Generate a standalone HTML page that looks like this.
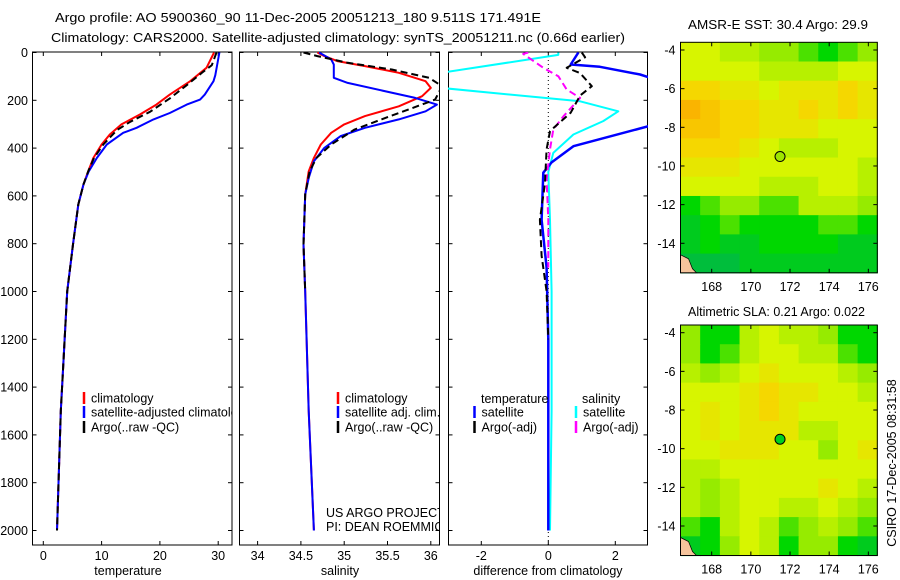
<!DOCTYPE html>
<html><head><meta charset="utf-8">
<style>
html,body{margin:0;padding:0;background:#fff;}
svg{display:block;font-family:"Liberation Sans",sans-serif;}
text{font-size:12.5px;fill:#000;}
</style></head>
<body>
<svg id="fig" width="900" height="580" viewBox="0 0 900 580" xmlns="http://www.w3.org/2000/svg">
<defs>
<clipPath id="c1"><rect x="33" y="52" width="199" height="493"/></clipPath>
<clipPath id="c2"><rect x="240" y="52" width="199" height="493"/></clipPath>
<clipPath id="c3"><rect x="448" y="52" width="200" height="493"/></clipPath>
</defs>
<text x="55" y="22" textLength="486" lengthAdjust="spacingAndGlyphs">Argo profile: AO 5900360_90 11-Dec-2005 20051213_180 9.511S 171.491E</text>
<text x="51" y="42" textLength="574" lengthAdjust="spacingAndGlyphs">Climatology: CARS2000. Satellite-adjusted climatology: synTS_20051211.nc (0.66d earlier)</text>
<g id="plots"></g>
<text x="688" y="29" textLength="180" lengthAdjust="spacingAndGlyphs">AMSR-E SST: 30.4  Argo: 29.9</text>
<text x="688" y="316" textLength="177" lengthAdjust="spacingAndGlyphs">Altimetric SLA: 0.21  Argo: 0.022</text>
<text transform="translate(896,463) rotate(-90)" text-anchor="middle">CSIRO 17-Dec-2005 08:31:58</text>
</svg>
<script>
// ---------- data ----------
const depthTicks = [0,200,400,600,800,1000,1200,1400,1600,1800,2000];
const tempTicks = [0,10,20,30];
const salTicks = [34,34.5,35,35.5,36];
const diffTicks = [-2,0,2];

const tClimDepth = [0,64,120,176,218,259,301,343,385,441,497,552,636,803,1000,1500,2000];
const tClimVal   = [29.3,28.0,25.2,21.7,19.4,16.6,13.4,11.4,10.0,8.6,7.7,6.9,6.0,5.1,4.1,3.0,2.35];
const tSatDepth  = [0,95,120,176,197,218,253,280,315,336,385,441,497,552,636,803,1000,1500,2000];
const tSatVal    = [30.2,29.5,29.2,27.7,26.9,24.6,21.7,18.9,16.0,13.7,10.9,9.2,7.8,6.9,6.0,5.1,4.1,3.0,2.35];
const tArgoDepth = [0,53,81,137,192,248,290,325,385,441,497,552,636,803,1000,1500,2000];
const tArgoVal   = [29.7,28.9,27.4,24.6,21.7,18.3,14.9,12.6,10.3,8.7,7.7,6.9,6.0,5.1,4.1,3.0,2.35];

const sClimDepth = [0,15,36,57,85,120,148,183,225,266,301,336,385,441,497,594,803,1000,1500,2000];
const sClimVal   = [34.69,34.77,34.92,35.24,35.63,35.94,36.0,35.90,35.63,35.24,35.0,34.85,34.73,34.65,34.59,34.55,34.53,34.55,34.59,34.65];
const sSatDepth  = [0,29,50,106,127,190,218,246,280,315,350,399,455,525,594,803,1000,1500,2000];
const sSatVal    = [34.71,34.85,34.88,34.88,35.04,35.82,36.07,35.94,35.63,35.24,34.96,34.77,34.65,34.59,34.55,34.53,34.55,34.59,34.65];
const sArgoDepth = [0,15,43,71,106,141,197,239,280,322,385,441,497,594,803,1000];
const sArgoVal   = [34.53,34.69,35.04,35.55,35.98,36.13,36.05,35.74,35.43,35.12,34.85,34.68,34.6,34.55,34.53,34.55];

const dTSatDepth = [0,50,60,92,150,200,250,308,392,460,503,700,900,1200,1500,2000];
const dTSatVal   = [0.9,0.67,1.54,2.74,4.0,5.0,4.5,3.0,0.75,0.1,-0.15,-0.2,-0.05,0,0,0];
const dTArgoDepth = [0,20,64,86,141,180,252,329,405,550,700,850,1000,1200];
const dTArgoVal   = [1.0,1.1,0.55,0.95,1.3,0.95,0.67,0.05,-0.05,-0.1,-0.25,-0.2,-0.05,0];
const dSSatDepth = [0,10,85,148,204,246,287,343,420,500,700,1000,1500,2000];
const dSSatVal   = [0.3,0.3,-3.2,-3.2,0.95,2.09,1.64,0.75,0.15,0.0,0.05,0.1,0.1,0.05];
const dSArgoDepth = [0,6,64,99,155,190,267,322,405,531,700,900];
const dSArgoVal   = [-0.6,-0.75,-0.15,0.3,0.55,0.95,0.45,0.15,0.05,-0.05,0,0];

const mapLonTicks = [168,170,172,174,176];
const mapLatTicks = [-4,-6,-8,-10,-12,-14];
const sstGrid = [
[3,3,2.5,2.5,2,2,1.5,1,1.5,2],
[3,3,3,3,2.5,2.5,2.5,2.5,3,3],
[4,4,3.5,3.5,3,3.5,3.5,3.5,4,3.5],
[5,4.5,4,4,3.5,3.5,4,3.5,4,3.5],
[4.5,4.5,4,4,3.5,3.5,3.5,3,3,3],
[4,4,4,3.5,3,2.5,2.5,2.5,3,3],
[3.5,3.5,3.5,3,3,3,3,3,3,2.5],
[3,3,3,3,2.5,2.5,2.5,3,3,2.5],
[1,1.5,2,2,1.5,1.5,2.5,2.5,2.5,2],
[0.5,1,1.5,1,1,1,1,1.5,1.5,1],
[0.5,1,0.5,0.5,1,1,1,1,0.5,0.5],
[0,0,0,0.5,0.5,0.5,0.5,0.5,0.5,0.5]];
const slaGrid = [
[2,1,1,2.5,3,2.5,2.5,2,1,1],
[2,1,1.5,2.5,3,3,2.5,2.5,1.5,1],
[2.5,2,2.5,3,3.5,3,3,3,2.5,2],
[3,3,3,3.5,4,3.5,3.5,3,3,2.5],
[3,3.5,3,3.5,4,3.5,3,3,3,3],
[3,3.5,3,3.5,3.5,3.5,2.5,2.5,3,3],
[3,3,3.5,3.5,3.5,3,3,2,3,3.5],
[2.5,2.5,3,3,3,3,3,3,3,3],
[2.5,2,2.5,3,3,3,3,3.5,3,2.5],
[2.5,2,2.5,3,3,2.5,2.5,3,2.5,2],
[1.5,1,2.5,3,2.5,1.5,2,2.5,2,1.5],
[0.5,1,2,3,2.5,1,2,2,1,0.5]];
const argoLon = 171.49, argoLat = -9.51;

// ---------- helpers ----------
const NS='http://www.w3.org/2000/svg';
const root=document.getElementById('plots');
function el(tag,attrs,parent){const e=document.createElementNS(NS,tag);for(const k in attrs)e.setAttribute(k,attrs[k]);(parent||root).appendChild(e);return e;}
function txt(x,y,s,anchor,parent){const t=el('text',{x:x,y:y,'text-anchor':anchor||'start'},parent);t.textContent=s;return t;}
const yD = d => 52.5 + d*0.239;
const tx = t => 43.3 + t*5.83;
const sx = s => 257.6 + (s-34)*86.6;
const dx = v => 548.3 + v*33.5;

function frame(x0,x1,name){
  const r=el('rect',{x:x0,y:52,width:x1-x0,height:493,fill:'none',stroke:'#000','stroke-width':1});
  
  
  depthTicks.forEach(d=>{const y=yD(d);el('line',{x1:x0,x2:x0+4,y1:y,y2:y,stroke:'#000'});el('line',{x1:x1-4,x2:x1,y1:y,y2:y,stroke:'#000'});});
}
function xticks(ticks,f){
  ticks.forEach(v=>{const x=f(v);el('line',{x1:x,x2:x,y1:52,y2:56,stroke:'#000'});el('line',{x1:x,x2:x,y1:541,y2:545,stroke:'#000'});
    const t=txt(x,560,String(v),'middle');
    
    });
}
function line(depths,vals,f,color,w,dash,clip,name){
  const pts=depths.map((d,i)=>f(vals[i]).toFixed(1)+','+yD(d).toFixed(1)).join(' ');
  const p=el('polyline',{points:pts,fill:'none',stroke:color,'stroke-width':w,'clip-path':'url(#'+clip+')','stroke-linejoin':'round'});
  if(dash)p.setAttribute('stroke-dasharray',dash);
  
  
}
function legendRow(x,y,color,label,clip,name){
  const g=el('g',{'clip-path':'url(#'+clip+')'});
  
  
  el('line',{x1:x,x2:x,y1:y-6,y2:y+6,stroke:color,'stroke-width':2.5},g);
  txt(x+7,y+4.5,label,'start',g);
}

// ---------- panel 1 temperature ----------
frame(32.5,232,'temperature-panel');
xticks(tempTicks,tx);
depthTicks.forEach(d=>{const t=txt(28,yD(d)+4.5,String(d),'end');
  
  });
line(tClimDepth,tClimVal,tx,'#ff0000',2,null,'c1','temp-climatology-line');
line(tSatDepth,tSatVal,tx,'#0000ff',2,null,'c1','temp-satellite-line');
line(tArgoDepth,tArgoVal,tx,'#000',2,'7,4','c1','temp-argo-line');
legendRow(84,398,'#ff0000','climatology','c1','legend-climatology');
legendRow(84,412,'#0000ff','satellite-adjusted climatology','c1','legend-satellite-adjusted');
legendRow(84,427,'#000','Argo(..raw -QC)','c1','legend-argo');
{const t=txt(128,575,'temperature','middle');}

// ---------- panel 2 salinity ----------
frame(239.5,439.5,'salinity-panel');
xticks(salTicks,sx);
line(sClimDepth,sClimVal,sx,'#ff0000',2,null,'c2','sal-climatology-line');
line(sSatDepth,sSatVal,sx,'#0000ff',2,null,'c2','sal-satellite-line');
line(sArgoDepth,sArgoVal,sx,'#000',2,'7,4','c2','sal-argo-line');
legendRow(338,398,'#ff0000','climatology','c2','legend-sal-climatology');
legendRow(338,412,'#0000ff','satellite adj. clim.','c2','legend-sal-satellite');
legendRow(338,427,'#000','Argo(..raw -QC)','c2','legend-sal-argo');
{const g=el('g',{'clip-path':'url(#c2)'});
 txt(326,517,'US ARGO PROJECT','start',g);txt(326,531,'PI: DEAN ROEMMICH','start',g);}
{const t=txt(340,575,'salinity','middle');}

// ---------- panel 3 difference ----------
frame(448.5,647.5,'difference-panel');
xticks(diffTicks,dx);
{const z=el('line',{x1:dx(0),x2:dx(0),y1:52,y2:545,stroke:'#000','stroke-dasharray':'1,3'});}
line(dSSatDepth,dSSatVal,dx,'#00ffff',2,null,'c3','diff-sal-satellite-line');
line(dTSatDepth,dTSatVal,dx,'#0000ff',2.5,null,'c3','diff-temp-satellite-line');
line(dSArgoDepth,dSArgoVal,dx,'#ff00ff',2,'7,4','c3','diff-sal-argo-line');
line(dTArgoDepth,dTArgoVal,dx,'#000',2,'7,4','c3','diff-temp-argo-line');
{const t=txt(481,403,'temperature');}
{const t=txt(582,403,'salinity');}
legendRow(474.5,412,'#0000ff','satellite','c3','legend-diff-temp-satellite');
legendRow(474.5,427,'#000','Argo(-adj)','c3','legend-diff-temp-argo');
legendRow(576,412,'#00ffff','satellite','c3','legend-diff-sal-satellite');
legendRow(576,427,'#ff00ff','Argo(-adj)','c3','legend-diff-sal-argo');
{const t=txt(548,575,'difference from climatology','middle');}

// ---------- maps ----------
const stops=[[0,190,60],[0,215,0],[150,235,0],[215,245,0],[245,215,0],[250,180,0]];
function col(v){const i=Math.max(0,Math.min(4,Math.floor(v)));const f=Math.max(0,Math.min(1,v-i));
  const a=stops[i],b=stops[i+1];return 'rgb('+a.map((c,k)=>Math.round(c+(b[k]-c)*f)).join(',')+')';}
function drawMap(top,grid,name,filled){
  const L=680.5,R=877.3,B=top+230.5;
  const lonX=lon=>711.7+(lon-168)*19.58;
  const latY=lat=>top+7.7+(-4-lat)*19.33;
  const g=el('g',{});
  
  
  const rows=grid.length,cols=grid[0].length,cw=(R-L)/cols,ch=(B-top)/rows;
  grid.forEach((row,r)=>row.forEach((v,c)=>{
    const cell=el('rect',{x:(L+c*cw).toFixed(2),y:(top+r*ch).toFixed(2),width:(cw+0.6).toFixed(2),height:(ch+0.6).toFixed(2),fill:col(v)},g);
    
    
  }));
  el('path',{d:`M${L} ${B-18} L${L+8} ${B-14} L${L+12} ${B-4} L${L+16} ${B} L${L} ${B} Z`,fill:'#f5c49c',stroke:'#000','stroke-width':0.7},g);
  el('rect',{x:L,y:top,width:R-L,height:B-top,fill:'none',stroke:'#000'},g);
  mapLonTicks.forEach(lo=>{const x=lonX(lo);el('line',{x1:x,x2:x,y1:top,y2:top+4,stroke:'#000'},g);el('line',{x1:x,x2:x,y1:B-4,y2:B,stroke:'#000'},g);
    txt(x,B+18,String(lo),'middle',g);});
  mapLatTicks.forEach(la=>{const y=latY(la);el('line',{x1:L,x2:L+4,y1:y,y2:y,stroke:'#000'},g);el('line',{x1:R-4,x2:R,y1:y,y2:y,stroke:'#000'},g);
    txt(L-5,y+4.5,String(la),'end',g);});
  const m=el('circle',{cx:lonX(argoLon),cy:latY(argoLat),r:5,fill:filled,stroke:'#000','stroke-width':1},g);
  
  
}
drawMap(42.3,sstGrid,'sst-map','#9ee600');
drawMap(325,slaGrid,'sla-map','#00d020');
</script>
</body></html>
